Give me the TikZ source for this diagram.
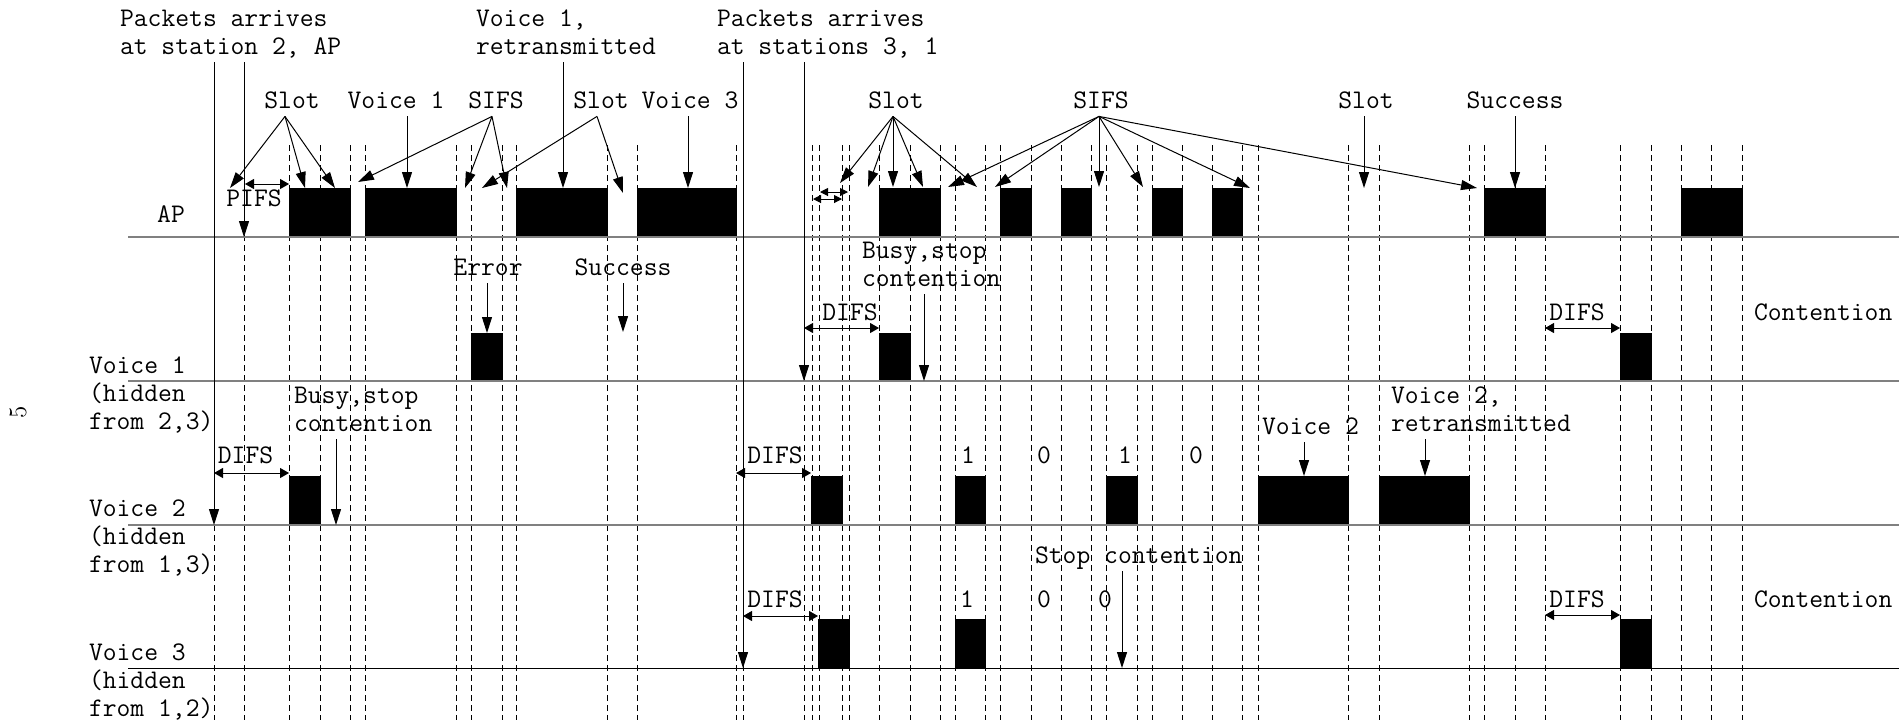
\documentclass[tikz,border=0pt]{standalone}
\usepackage{fontspec}
\usetikzlibrary{arrows.meta}

\begin{document}
\begin{tikzpicture}[
  x=0.5pt, y=-0.5pt,
  every node/.style={font=\ttfamily\fontsize{13.43}{14}\selectfont,inner sep=0pt,outer sep=0pt},
  lbl/.style={anchor=base,text height=9.8pt,text depth=4.2pt},
  lblw/.style={anchor=base west,text height=9.8pt,text depth=4.2pt},
  mlbl/.style={anchor=north west,align=left},
  bigarr/.style={-{Triangle[length=8pt,width=5pt]},line width=0.5pt},
  dimarr/.style={{Triangle[length=4.5pt,width=5pt]}-{Triangle[length=4.5pt,width=5pt]},line width=0.5pt},
  slotarr/.style={{Triangle[length=4pt,width=4pt]}-{Triangle[length=4pt,width=4pt]},line width=0.5pt},
  tick/.style={dash pattern=on 3pt off 2pt,line width=0.5pt},
  frame/.style={fill=black,draw=black,line width=0.5pt},
  chan/.style={draw=gray,line width=0.8pt},
]
  \useasboundingbox (0,0) rectangle (1899,720);

  % Slot boundaries
  \foreach \x in {214,244,289,320,350,365,456,471,502,516,607,637,736,743,804,812,
                  819,842,849,879,910,940,955,985,1000,1031,1061,1091,1106,1137,1152,
                  1182,1212,1242,1258,1348,1379,1469,1484,1515,1545,1620,1651,1681,1711,1742}
    \draw[tick] (\x,145) -- (\x,720);

  % Frames: AP
  \foreach \a/\b in {289/350,365/456,516/607,637/736,879/940,1000/1031,1061/1091,
                     1152/1182,1212/1242,1484/1545,1681/1742}
    \path[frame] (\a,188) rectangle (\b,237);
  % Frames: Voice 1
  \foreach \a/\b in {471/502,879/910,1620/1651}
    \path[frame] (\a,333) rectangle (\b,381);
  % Frames: Voice 2
  \foreach \a/\b in {289/320,811/842,955/985,1106/1137,1258/1348,1379/1469}
    \path[frame] (\a,476) rectangle (\b,525);
  % Frames: Voice 3
  \foreach \a/\b in {818/849,955/985,1620/1651}
    \path[frame] (\a,619) rectangle (\b,668);

  % Time axes
  \draw[chan] (128,237) -- (1899,237);
  \draw[chan] (128,381) -- (1899,381);
  \draw[chan] (128,525) -- (1899,525);
  \draw[line width=0.5pt] (128,668) -- (1899,668);

  % Station names
  \node[lbl] (ap) at (171,222) {AP};
  \node[mlbl] (sta1) at (89,353.4) {\strut Voice 1\\\strut (hidden\\\strut from 2,3)};
  \node[mlbl] (sta2) at (89,496.4) {\strut Voice 2\\\strut (hidden\\\strut from 1,3)};
  \node[mlbl] (sta3) at (89,640.4) {\strut Voice 3\\\strut (hidden\\\strut from 1,2)};
  \node[font=\rmfamily\fontsize{12.5}{14}\selectfont,rotate=90] (pageno) at (18,412) {5};

  % Arrival events
  \node[mlbl] (arr1) at (120,6.4) {\strut Packets arrives\\\strut at station 2, AP};
  \node[mlbl] (retx1) at (476,6.4) {\strut Voice 1,\\\strut retransmitted};
  \node[mlbl] (arr2) at (717,6.4) {\strut Packets arrives\\\strut at stations 3, 1};
  \coordinate (arr1a) at (214,525);
  \coordinate (arr1b) at (244,237);
  \coordinate (retx1a) at (563,188);
  \coordinate (arr2a) at (743,668);
  \coordinate (arr2b) at (804,381);
  \draw[bigarr] (arr1.south -| arr1a) -- (arr1a);
  \draw[bigarr] (arr1.south -| arr1b) -- (arr1b);
  \draw[bigarr] (retx1.south -| retx1a) -- (retx1a);
  \draw[bigarr] (arr2.south -| arr2a) -- (arr2a);
  \draw[bigarr] (arr2.south -| arr2b) -- (arr2b);

  % AP row labels
  \node[lbl] (slot1) at (292,108) {Slot};
  \node[lbl] (voice1) at (396,108) {Voice 1};
  \node[lbl] (sifs1) at (496,108) {SIFS};
  \node[lbl] (slot2) at (601,108) {Slot};
  \node[lbl] (voice3) at (690,108) {Voice 3};
  \node[lbl] (slot3) at (896,108) {Slot};
  \node[lbl] (sifs2) at (1101,108) {SIFS};
  \node[lbl] (slot4) at (1366,108) {Slot};
  \node[lbl] (succ1) at (1515,108) {Success};
  \node[lbl] (pifs) at (254,206) {PIFS};

  \foreach \tx/\ty in {230/188,305/188,335/188}
    \draw[bigarr] ([xshift=-3.5pt]slot1.south) -- (\tx,\ty);
  \foreach \tx/\ty in {358/182,465/188,507/188}
    \draw[bigarr] ([xshift=-2pt]sifs1.south) -- (\tx,\ty);
  \foreach \tx/\ty in {482/188,623/193}
    \draw[bigarr] ([xshift=-2pt]slot2.south) -- (\tx,\ty);
  \foreach \tx/\ty in {840/183,868/187,893/187,923/187,977/187}
    \draw[bigarr] ([xshift=-1.5pt]slot3.south) -- (\tx,\ty);
  \foreach \tx/\ty in {948/187,995/187,1099/187,1143/187,1250/188,1477/188}
    \draw[bigarr] ([xshift=-1pt]sifs2.south) -- (\tx,\ty);
  \coordinate (voice1a) at (407,188);
  \coordinate (voice3a) at (688,188);
  \coordinate (slot4a) at (1364,188);
  \coordinate (succ1a) at (1515,188);
  \draw[bigarr] (voice1.south -| voice1a) -- (voice1a);
  \draw[bigarr] (voice3.south -| voice3a) -- (voice3a);
  \draw[bigarr] (slot4.south -| slot4a) -- (slot4a);
  \draw[bigarr] (succ1.south -| succ1a) -- (succ1a);

  % Interframe spaces
  \draw[dimarr] (245,184) -- (289,184);
  \draw[slotarr] (813,199) -- (842,199);
  \draw[slotarr] (820,192) -- (848,192);

  % Voice 1 row
  \node[lbl] (err) at (488,275) {Error};
  \node[lbl] (succ2) at (623,275) {Success};
  \node[mlbl] (busy1) at (862,238.4) {\strut Busy,stop\\\strut contention};
  \node[lbl] (difs2) at (850,320) {DIFS};
  \node[lbl] (difs5) at (1577,320) {DIFS};
  \node[lblw] (cont1) at (1754,320) {Contention};
  \coordinate (erra) at (487,333);
  \coordinate (succ2a) at (623,332);
  \coordinate (busy1a) at (924,381);
  \draw[bigarr] (err.south -| erra) -- (erra);
  \draw[bigarr] (succ2.south -| succ2a) -- (succ2a);
  \draw[bigarr] (busy1.south -| busy1a) -- (busy1a);
  \draw[dimarr] (804,328) -- (879,328);
  \draw[dimarr] (1545,328) -- (1620,328);

  % Voice 2 row
  \node[mlbl] (busy2) at (294,383.4) {\strut Busy,stop\\\strut contention};
  \node[lbl] (difs1) at (245.5,463) {DIFS};
  \node[lbl] (difs3) at (775,463) {DIFS};
  \node[lbl] (b21) at (968,463) {1};
  \node[lbl] (b22) at (1044,463) {0};
  \node[lbl] (b23) at (1125,463) {1};
  \node[lbl] (b24) at (1196,463) {0};
  \node[lblw] (voice2) at (1262,434) {Voice 2};
  \node[mlbl] (retx2) at (1391,383.4) {\strut Voice 2,\\\strut retransmitted};
  \coordinate (busy2a) at (336,525);
  \coordinate (voice2a) at (1304,476);
  \coordinate (retx2a) at (1425,476);
  \draw[bigarr] (busy2.south -| busy2a) -- (busy2a);
  \draw[bigarr] (voice2.south -| voice2a) -- (voice2a);
  \draw[bigarr] (retx2.south -| retx2a) -- (retx2a);
  \draw[dimarr] (214,473) -- (289,473);
  \draw[dimarr] (736,473) -- (811,473);

  % Voice 3 row
  \node[lblw] (stop) at (1035,563) {Stop contention};
  \node[lbl] (difs4) at (775,607) {DIFS};
  \node[lbl] (difs6) at (1577,607) {DIFS};
  \node[lbl] (b31) at (967,607) {1};
  \node[lbl] (b32) at (1044,607) {0};
  \node[lbl] (b33) at (1105,607) {0};
  \node[lblw] (cont2) at (1754,607) {Contention};
  \coordinate (stopa) at (1122,668);
  \draw[bigarr] (stop.south -| stopa) -- (stopa);
  \draw[dimarr] (743,616) -- (818,616);
  \draw[dimarr] (1545,615) -- (1620,615);
\end{tikzpicture}
\end{document}
